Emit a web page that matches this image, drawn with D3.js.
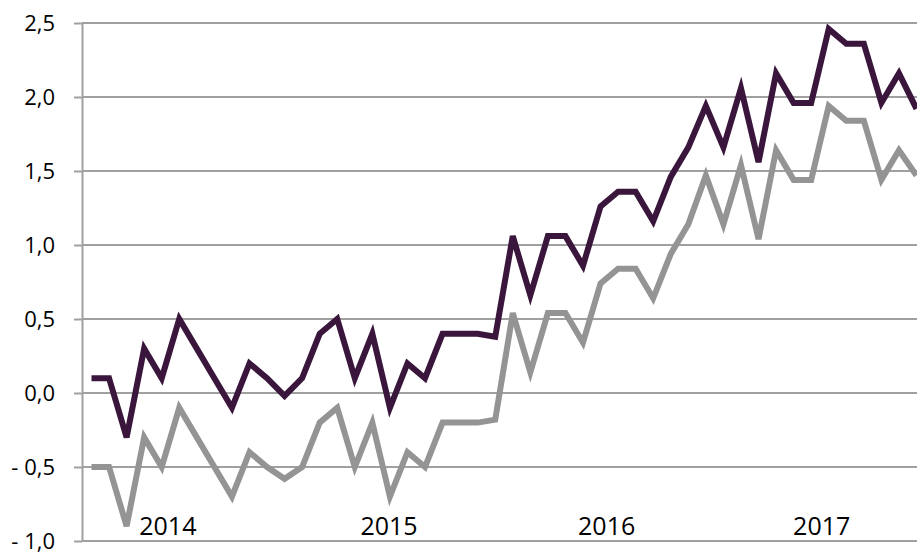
<!DOCTYPE html>
<html>
<head>
<meta charset="utf-8">
<script src="https://cdn.jsdelivr.net/npm/d3@7"></script>
<style>
  html, body { margin: 0; padding: 0; background: #fff; }
  svg { display: block; }
  text { font-family: 'Open Sans', 'Noto Sans', sans-serif; fill: #000; }
</style>
</head>
<body>
<div id="chart"></div>
<script>
// ─── Daten ────────────────────────────────────────────────────────────────────

// Monatswerte, Jan 2014 bis Dez 2017 (letzter Punkt am Bildrand)
const seriesDark = [
  0.1, 0.1, -0.3, 0.3, 0.1, 0.5, 0.3, 0.1, -0.1, 0.2, 0.1, -0.02,
  0.1, 0.4, 0.5, 0.1, 0.4, -0.1, 0.2, 0.1, 0.4, 0.4, 0.4, 0.38,
  1.06, 0.66, 1.06, 1.06, 0.86, 1.26, 1.36, 1.36, 1.16, 1.46, 1.66, 1.94,
  1.66, 2.06, 1.56, 2.16, 1.96, 1.96, 2.46, 2.36, 2.36, 1.96, 2.16, 1.92
];

const seriesGray = [
  -0.5, -0.5, -0.9, -0.3, -0.5, -0.1, -0.3, -0.5, -0.7, -0.4, -0.5, -0.58,
  -0.5, -0.2, -0.1, -0.5, -0.2, -0.7, -0.4, -0.5, -0.2, -0.2, -0.2, -0.18,
  0.54, 0.14, 0.54, 0.54, 0.34, 0.74, 0.84, 0.84, 0.64, 0.94, 1.14, 1.47,
  1.14, 1.54, 1.04, 1.64, 1.44, 1.44, 1.94, 1.84, 1.84, 1.44, 1.64, 1.47
];

const yearLabels = ['2014', '2015', '2016', '2017'];
const yTicks     = [-1.0, -0.5, 0.0, 0.5, 1.0, 1.5, 2.0, 2.5];

// Lage der Jahresbeschriftung auf der Monatsachse
const yearLabelPos = [4.35, 16.95, 29.35, 41.6];

// ─── Layout ───────────────────────────────────────────────────────────────────

const W = 917, H = 552;
const axisX = 82;

const svg = d3.select('#chart')
  .append('svg')
  .attr('width',  W)
  .attr('height', H);

const x = d3.scaleLinear()
  .domain([0, seriesDark.length - 1])
  .range([91.5, 916.5]);

const y = d3.scaleLinear()
  .domain([-1, 2.5])
  .range([541, 23]);

const locale = d3.formatLocale({ decimal: ',', thousands: '.', grouping: [3], currency: ['', ''] });
const f1 = locale.format('.1f');
const fmtY = v => v < 0 ? '- ' + f1(-v) : f1(v);

// Gitternetz
svg.append('g')
  .selectAll('line')
  .data(yTicks)
  .enter()
  .append('line')
  .attr('x1', axisX)
  .attr('x2', W)
  .attr('y1', d => y(d))
  .attr('y2', d => y(d))
  .attr('stroke', '#a0a0a0')
  .attr('stroke-width', 2);

// y-Achse
const yAxis = d3.axisLeft(y)
  .tickValues(yTicks)
  .tickSize(8)
  .tickSizeOuter(0)
  .tickPadding(19)
  .tickFormat(fmtY);

const gy = svg.append('g')
  .attr('transform', `translate(${axisX},0)`)
  .call(yAxis);

gy.select('.domain').attr('stroke', '#a0a0a0').attr('stroke-width', 2);
gy.selectAll('.tick line').attr('stroke', '#a0a0a0').attr('stroke-width', 2);
gy.selectAll('.tick text')
  .style('font-family', "'Open Sans', sans-serif")
  .style('font-size', '22px')
  .attr('fill', '#000');

// Jahresbeschriftung
svg.append('g')
  .selectAll('text')
  .data(yearLabels)
  .enter()
  .append('text')
  .attr('x', (d, i) => x(yearLabelPos[i]))
  .attr('y', 535)
  .attr('text-anchor', 'middle')
  .style('font-size', '25px')
  .text(d => d);

// Linien
const line = d3.line()
  .x((d, i) => x(i))
  .y(d => y(d));

svg.append('path')
  .datum(seriesDark)
  .attr('d', line)
  .attr('fill', 'none')
  .attr('stroke', '#3a163d')
  .attr('stroke-width', 6)
  .attr('stroke-linejoin', 'miter');

svg.append('path')
  .datum(seriesGray)
  .attr('d', line)
  .attr('fill', 'none')
  .attr('stroke', '#949494')
  .attr('stroke-width', 6)
  .attr('stroke-linejoin', 'miter');
</script>
</body>
</html>
